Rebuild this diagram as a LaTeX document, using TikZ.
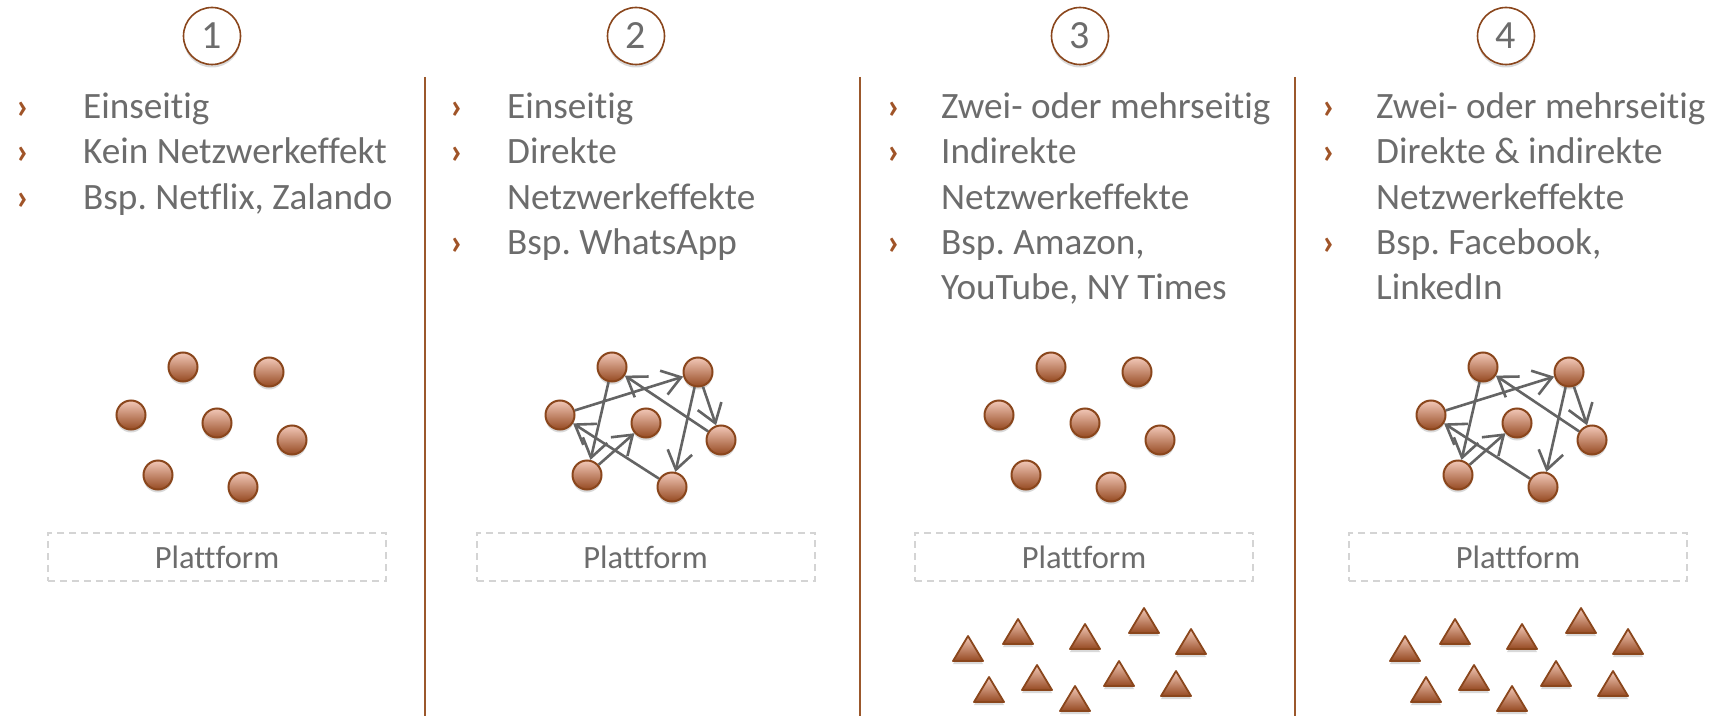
\documentclass[tikz,border=0pt]{standalone}
\usepackage{fontspec}
\setmainfont[Ligatures={NoCommon}]{Carlito}
\frenchspacing
\usetikzlibrary{arrows.meta,shadows}

\definecolor{txtgray}{RGB}{108,108,108}
\definecolor{brownline}{RGB}{155,88,44}
\definecolor{brownedge}{RGB}{138,70,28}
\definecolor{bullbrown}{RGB}{160,84,40}
\definecolor{balltop}{RGB}{242,200,184}
\definecolor{ballbot}{RGB}{150,74,34}
\definecolor{dashgray}{RGB}{212,212,212}
\definecolor{arrowgray}{RGB}{100,100,100}

\tikzset{
  softshadow/.style={drop shadow={shadow xshift=0bp, shadow yshift=-3bp, opacity=0.15, fill=black}},
  ball/.style={circle, minimum size=29bp, inner sep=0pt, draw=brownedge, line width=2bp,
    top color=balltop, bottom color=ballbot, softshadow},
  tri/.style={draw=brownedge, line width=1.8bp, line join=round,
    top color=balltop, bottom color=ballbot, softshadow},
  numcircle/.style={circle, minimum size=57bp, inner sep=0pt, draw=brownedge, line width=1.6bp,
    fill=white, text=txtgray, font=\fontsize{40bp}{40bp}\selectfont, softshadow},
  itemtext/.style={anchor=base west, inner sep=0pt, text=txtgray, font=\fontsize{37.2bp}{45bp}\selectfont},
  bulletmark/.style={anchor=base west, inner sep=0pt, text=bullbrown, font=\fontsize{36.5bp}{45bp}\selectfont\bfseries},
  platform/.style={draw=dashgray, line width=2bp, dash pattern=on 7bp off 5bp,
    minimum width=338bp, minimum height=48bp, inner sep=0pt, text=txtgray,
    font=\fontsize{32.5bp}{32.5bp}\selectfont},
  divider/.style={draw=brownline, line width=2.6bp},
  link/.style={draw=arrowgray, line width=2.6bp, -{Straight Barb[length=18bp,width=25bp]}},
}

% seven nodes of a network, shifted by #2
\newcommand\ballset[2]{%
  \node[ball] (#1a) at (#2+183,367) {};
  \node[ball] (#1b) at (#2+269,372) {};
  \node[ball] (#1c) at (#2+131,415) {};
  \node[ball] (#1d) at (#2+217,423) {};
  \node[ball] (#1e) at (#2+292,440) {};
  \node[ball] (#1f) at (#2+158,475) {};
  \node[ball] (#1g) at (#2+243,487) {};
}
% direct network effects between the nodes of set #1
\newcommand\linkset[1]{%
  \draw[link] (#1c) -- (#1b);
  \draw[link] (#1e) -- (#1a);
  \draw[link] (#1g) -- (#1c);
  \draw[link] (#1a) -- (#1f);
  \draw[link] (#1f) -- (#1d);
  \draw[link] (#1b) -- (#1e);
  \draw[link] (#1b) -- (#1g);
}
% one triangle: centre x, apex y
\newcommand\trimark[2]{%
  \path[tri] (#1,#2) -- (#1+15,#2+25) -- (#1-15,#2+25) -- cycle;
}
% a group of ten triangles shifted by #1
\newcommand\triset[1]{%
  \trimark{#1+968}{636}\trimark{#1+1018}{619}\trimark{#1+1085}{624}
  \trimark{#1+1144}{608}\trimark{#1+1191}{629}\trimark{#1+989}{677}
  \trimark{#1+1037}{665}\trimark{#1+1075}{686}\trimark{#1+1119}{661}
  \trimark{#1+1176}{671}
}

\begin{document}
\begin{tikzpicture}[x=1bp,y=-1bp]
\useasboundingbox (0,0) rectangle (1731,716);
\fill[white] (0,0) rectangle (1731,716);

% column separators
\draw[divider] (425,77) -- (425,716);
\draw[divider] (860,77) -- (860,716);
\draw[divider] (1295,77) -- (1295,716);

% numbered headers
\node[numcircle] (n1) at (212,36) {\raisebox{-2bp}{1}};
\node[numcircle] (n2) at (636,36) {\raisebox{-2bp}{2}};
\node[numcircle] (n3) at (1080,36) {\raisebox{-2bp}{3}};
\node[numcircle] (n4) at (1506,36) {\raisebox{-2bp}{4}};

% column 1
\node[bulletmark] (b1a) at (16,119) {›};
\node[itemtext] (t1a) at (83,119) {Einseitig};
\node[bulletmark] (b1b) at (16,164) {›};
\node[itemtext] (t1b) at (83,164) {Kein Netzwerkeffekt};
\node[bulletmark] (b1c) at (16,209) {›};
\node[itemtext] (t1c) at (83,209) {Bsp. Netflix, Zalando};

% column 2
\node[bulletmark] (b2a) at (450,119) {›};
\node[itemtext] (t2a) at (507,119) {Einseitig};
\node[bulletmark] (b2b) at (450,164) {›};
\node[itemtext] (t2b) at (507,164) {Direkte};
\node[itemtext] (t2c) at (507,209) {Netzwerkeffekte};
\node[bulletmark] (b2d) at (450,254) {›};
\node[itemtext] (t2d) at (507,254) {Bsp. WhatsApp};

% column 3
\node[bulletmark] (b3a) at (887,119) {›};
\node[itemtext] (t3a) at (941,119) {Zwei- oder mehrseitig};
\node[bulletmark] (b3b) at (887,164) {›};
\node[itemtext] (t3b) at (941,164) {Indirekte};
\node[itemtext] (t3c) at (941,209) {Netzwerkeffekte};
\node[bulletmark] (b3d) at (887,254) {›};
\node[itemtext] (t3d) at (941,254) {Bsp. Amazon,};
\node[itemtext] (t3e) at (941,299) {YouTube, NY Times};

% column 4
\node[bulletmark] (b4a) at (1322,119) {›};
\node[itemtext] (t4a) at (1376,119) {Zwei- oder mehrseitig};
\node[bulletmark] (b4b) at (1322,164) {›};
\node[itemtext] (t4b) at (1376,164) {Direkte \& indirekte};
\node[itemtext] (t4c) at (1376,209) {Netzwerkeffekte};
\node[bulletmark] (b4d) at (1322,254) {›};
\node[itemtext] (t4d) at (1376,254) {Bsp. Facebook,};
\node[itemtext] (t4e) at (1376,299) {LinkedIn};

% networks of users
\ballset{p1}{0}
\ballset{p2}{429}
\ballset{p3}{868}
\ballset{p4}{1300}
\linkset{p2}
\linkset{p4}

% platforms
\node[platform] (pl1) at (217,557) {Plattform};
\node[platform] (pl2) at (645.5,557) {Plattform};
\node[platform] (pl3) at (1084,557) {Plattform};
\node[platform] (pl4) at (1518,557) {Plattform};

% second user group
\triset{0}
\triset{437}
\end{tikzpicture}
\end{document}
